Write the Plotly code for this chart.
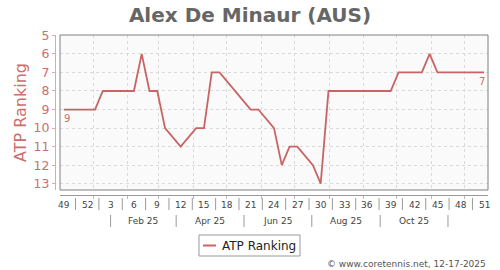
import plotly.graph_objects as go
import pandas as pd

# ---------------- data ----------------
first_week_mid = "2024-12-05 12:00"   # middle of ISO week 49, 2024
ranks = [9, 9, 9, 9, 9,
         8, 8, 8, 8, 8,
         6,
         8, 8,
         10, None, 11, None,
         10, 10,
         7, 7, None, None, None,
         9, 9, None,
         10, 12,
         11, 11, None,
         12, 13,
         8, 8, 8, 8, 8, 8, 8, 8, 8,
         7, 7, 7, 7,
         6,
         7, 7, 7, 7, 7, 7, 7]
week_labels = ["49", "52", "3", "6", "9", "12", "15", "18", "21", "24", "27",
               "30", "33", "36", "39", "42", "45", "48", "51"]
month_labels = ["Feb 25", "Apr 25", "Jun 25", "Aug 25", "Oct 25"]
month_label_months = ["2025-02", "2025-04", "2025-06", "2025-08", "2025-10"]
month_sep_months = ["2025-01", "2025-03", "2025-05", "2025-07", "2025-09", "2025-11"]
x_range = ["2024-12-02", "2025-12-22"]
series_name = "ATP Ranking"
title_text = "Alex De Minaur (AUS)"
credit_text = "© www.coretennis.net, 12-17-2025"

# ---------------- layout helpers ----------------
W, H = 500, 270
ML, MR, MT, MB = 55, 12, 35, 75
PW, PH = W - ML - MR, H - MT - MB
FONT = "DejaVu Sans"
LINE_C = "#c86464"
TEXT_RED = "#cc6e6e"


def fx(px):
    return (px - ML) / PW


def fy(py):
    return 1 - (py - MT) / PH


def month_mid(m):
    s = pd.Timestamp(m + "-01")
    e = s + pd.offsets.MonthBegin(1)
    return s + (e - s) / 2


dates = pd.date_range(pd.Timestamp(first_week_mid), periods=len(ranks), freq="7D")
label_dates = list(dates[::3])[:len(week_labels)]

fig = go.Figure()
fig.add_trace(go.Scatter(
    x=dates, y=ranks, mode="lines", name=series_name, connectgaps=True,
    line=dict(color=LINE_C, width=1.8), showlegend=False))

annotations = []
shapes = []

# plot border
shapes.append(dict(type="rect", xref="paper", yref="paper",
                   x0=fx(60), x1=1, y0=fy(190), y1=1,
                   line=dict(color="#808080", width=1), layer="above"))

# week labels + separators
for d, t in zip(label_dates, week_labels):
    annotations.append(dict(x=d, y=fy(204.5), xref="x", yref="paper", text=t,
                            showarrow=False, yanchor="middle", xanchor="center",
                            font=dict(family=FONT, size=9, color="#444")))
for a, b in zip(label_dates[:-1], label_dates[1:]):
    m = a + (b - a) / 2
    shapes.append(dict(type="line", xref="x", yref="paper", x0=m, x1=m,
                       y0=fy(198), y1=fy(210), line=dict(color="#999", width=1)))

# month labels + separators
for m, t in zip(month_label_months, month_labels):
    annotations.append(dict(x=month_mid(m), y=fy(221), xref="x", yref="paper", text=t,
                            showarrow=False, yanchor="middle", xanchor="center",
                            font=dict(family=FONT, size=9, color="#444")))
for m in month_sep_months:
    d = month_mid(m)
    shapes.append(dict(type="line", xref="x", yref="paper", x0=d, x1=d,
                       y0=fy(215), y1=fy(227), line=dict(color="#999", width=1)))

# end-point labels
annotations.append(dict(x=dates[0], y=ranks[0], xref="x", yref="y", text=str(ranks[0]),
                        showarrow=False, xshift=3, yshift=-9,
                        font=dict(family=FONT, size=10, color=TEXT_RED)))
annotations.append(dict(x=dates[-1], y=ranks[-1], xref="x", yref="y", text=str(ranks[-1]),
                        showarrow=False, xshift=-2, yshift=-9,
                        font=dict(family=FONT, size=10, color=TEXT_RED)))

# manual legend
shapes.append(dict(type="rect", xref="paper", yref="paper",
                   x0=fx(199), x1=fx(300), y0=fy(256), y1=fy(235),
                   line=dict(color="#999", width=1), fillcolor="white"))
shapes.append(dict(type="line", xref="paper", yref="paper",
                   x0=fx(203), x1=fx(216), y0=fy(245.5), y1=fy(245.5),
                   line=dict(color=LINE_C, width=2)))
annotations.append(dict(x=fx(220), y=fy(245.5), xref="paper", yref="paper",
                        text=series_name, showarrow=False, xanchor="left", yanchor="middle",
                        font=dict(family=FONT, size=12, color="#222")))

# credit
annotations.append(dict(x=fx(488), y=fy(263.5), xref="paper", yref="paper",
                        text=credit_text, showarrow=False, xanchor="right", yanchor="middle",
                        font=dict(family=FONT, size=9, color="#555")))

fig.update_layout(
    width=W, height=H,
    margin=dict(l=ML, r=MR, t=MT, b=MB, pad=0),
    paper_bgcolor="white", plot_bgcolor="#fafafa",
    font=dict(family=FONT),
    title=dict(text="<b>" + title_text + "</b>", x=0.5, xref="container", xanchor="center",
               y=1 - 14.5 / H, yref="container", yanchor="middle",
               font=dict(family=FONT, size=20, color="#666")),
    xaxis=dict(type="date", domain=[fx(60), 1], anchor="free", position=0,
               range=x_range, tick0="2025-01-01", dtick="M1",
               showticklabels=False, ticks="outside", ticklen=3, tickcolor="#bbb",
               showline=True, linecolor="#999", linewidth=1,
               showgrid=True, gridcolor="#dadada", griddash="3px,3px", gridwidth=1,
               zeroline=False, fixedrange=True),
    yaxis=dict(domain=[fy(190), 1], anchor="free", position=0,
               range=[13.34, 4.98], tickmode="linear", tick0=5, dtick=1,
               ticks="outside", ticklen=3, tickcolor="#e0a8a8",
               showline=True, linecolor="#e0a8a8", linewidth=1,
               tickfont=dict(family=FONT, size=12.5, color=TEXT_RED),
               title=dict(text=series_name, standoff=1,
                          font=dict(family=FONT, size=16, color=TEXT_RED)),
               showgrid=True, gridcolor="#dadada", griddash="3px,3px", gridwidth=1,
               zeroline=False, fixedrange=True),
    annotations=annotations,
    shapes=shapes,
)

fig.write_html("out.html")
